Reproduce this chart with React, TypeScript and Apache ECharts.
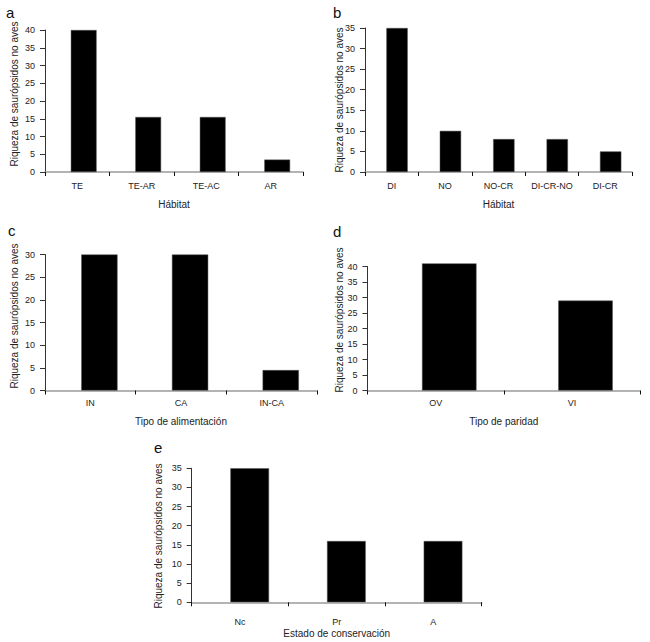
import React, { useEffect, useRef } from "react";
import * as echarts from "echarts";

const catsA = ["TE", "TE-AR", "TE-AC", "AR"];
const valsA = [40, 15.5, 15.5, 3.5];
const catsB = ["DI", "NO", "NO-CR", "DI-CR-NO", "DI-CR"];
const valsB = [35, 10, 8, 8, 5];
const catsC = ["IN", "CA", "IN-CA"];
const valsC = [30, 30, 4.5];
const catsD = ["OV", "VI"];
const valsD = [41, 29];
const catsE = ["Nc", "Pr", "A"];
const valsE = [35, 16, 16];

const yTitle = "Riqueza de saurópsidos no aves";
const xTitles = ["Hábitat", "Hábitat", "Tipo de alimentación", "Tipo de paridad", "Estado de conservación"];
const letters = ["a", "b", "c", "d", "e"];
const yMax = [40, 35, 30, 40, 35];

const FONT = "'Liberation Sans', Arial, Helvetica, sans-serif";

export default function App() {
  const ref = useRef<HTMLDivElement>(null);
  useEffect(() => {
    if (!ref.current) return;
    const chart = echarts.init(ref.current, null, { renderer: "svg" });
    const cats = [catsA, catsB, catsC, catsD, catsE];
    const vals = [valsA, valsB, valsC, valsD, valsE];
    const grids = [
      { left: 45, top: 30, width: 258, height: 142 },
      { left: 365, top: 28, width: 267, height: 144 },
      { left: 45, top: 254.5, width: 272, height: 136 },
      { left: 367.5, top: 266.5, width: 272.5, height: 124 },
      { left: 191.7, top: 468.3, width: 290, height: 134 },
    ];
    const labelMargins = [9, 9, 8, 8, 15];
    const nameGaps = [27, 27, 26, 26, 26];
    const yTitlePos = [
      [14, 94],
      [339, 100],
      [14, 316],
      [339, 320],
      [158, 536],
    ];
    const letterPos = [
      [6, 12],
      [333, 12],
      [8, 230],
      [333, 231],
      [154, 447],
    ];

    const xAxis = cats.map((c, i) => ({
      type: "category",
      gridIndex: i,
      data: c,
      name: xTitles[i],
      nameLocation: "middle",
      nameGap: nameGaps[i],
      nameTextStyle: { fontFamily: FONT, fontSize: 10, color: "#222" },
      axisLine: { show: true, lineStyle: { color: "#9a9a9a", width: 1.5 } },
      axisTick: { show: true, length: 4, lineStyle: { color: "#111", width: 1 } },
      axisLabel: { fontFamily: FONT, fontSize: 9, color: "#222", margin: labelMargins[i], interval: 0 },
      splitLine: { show: false },
    }));

    const yAxis = cats.map((_c, i) => ({
      type: "value",
      gridIndex: i,
      min: 0,
      max: yMax[i],
      interval: 5,
      axisLine: { show: true, lineStyle: { color: "#333", width: 1 } },
      axisTick: { show: true, length: 5, lineStyle: { color: "#333", width: 1 } },
      axisLabel: { fontFamily: FONT, fontSize: 9, color: "#222", margin: 10 },
      splitLine: { show: false },
    }));

    const series: any[] = [];
    cats.forEach((c, i) => {
      series.push({
        type: "bar",
        xAxisIndex: i,
        yAxisIndex: i,
        data: c.map(() => null),
        barWidth: "20%",
        barGap: "0%",
        itemStyle: { color: "transparent" },
        silent: true,
      });
      series.push({
        type: "bar",
        name: letters[i],
        xAxisIndex: i,
        yAxisIndex: i,
        data: vals[i],
        barWidth: "40%",
        barGap: "0%",
        clip: false,
        itemStyle: { color: "#000", borderColor: "#555", borderWidth: 0.5 },
      });
    });

    const graphic: any[] = [];
    yTitlePos.forEach((p) => {
      graphic.push({
        type: "text",
        x: p[0],
        y: p[1],
        rotation: Math.PI / 2,
        style: {
          text: yTitle,
          fontFamily: FONT,
          fontSize: 10,
          fill: "#222",
          align: "center",
          verticalAlign: "middle",
        },
      });
    });
    letterPos.forEach((p, i) => {
      graphic.push({
        type: "text",
        x: p[0],
        y: p[1],
        style: {
          text: letters[i],
          fontFamily: FONT,
          fontSize: 15,
          fill: "#111",
          align: "left",
          verticalAlign: "middle",
        },
      });
    });

    chart.setOption({
      animation: false,
      backgroundColor: "#fff",
      grid: grids.map((g) => ({ ...g, containLabel: false })),
      xAxis,
      yAxis,
      series,
      graphic,
    });
    return () => chart.dispose();
  }, []);
  return (
    <div
      ref={ref}
      style={{ position: "absolute", left: 0, top: 0, width: 650, height: 642, background: "#fff" }}
    />
  );
}
